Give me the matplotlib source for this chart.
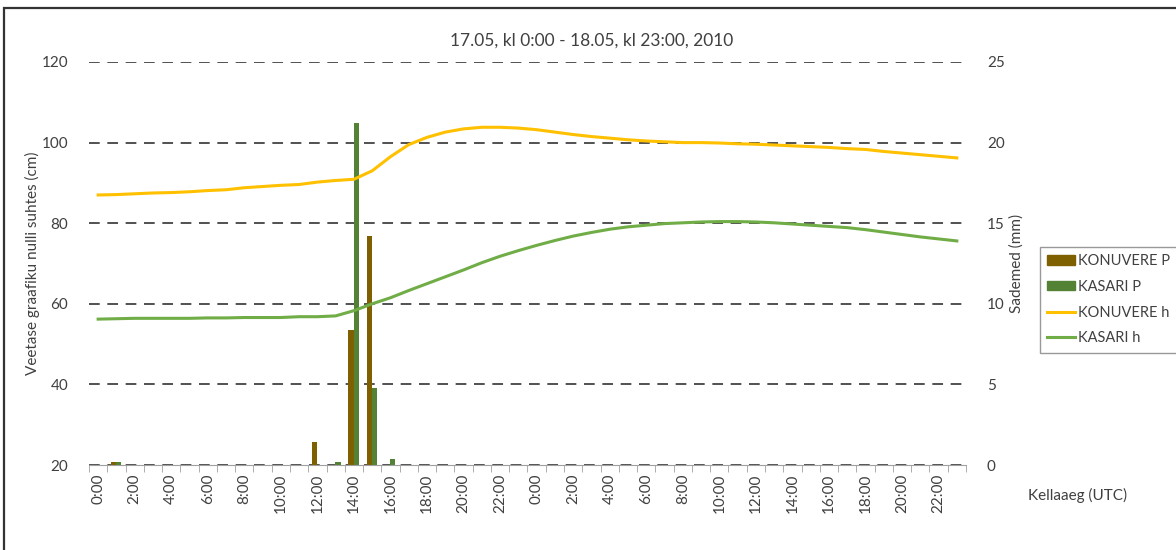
import numpy as np
import matplotlib
matplotlib.use("Agg")
import matplotlib.pyplot as plt
from matplotlib.patches import Patch, Rectangle
from matplotlib.lines import Line2D

plt.rcParams["font.family"] = ["Lato", "DejaVu Sans"]

# hourly categories, 17.05 0:00 .. 18.05 23:00
hours = [f"{h}:00" for h in range(24)] * 2
tick_labels = [lab if i % 2 == 0 else "" for i, lab in enumerate(hours)]

# precipitation (mm), right axis
konuvere_p = [0, 0.2, 0, 0, 0, 0, 0, 0, 0, 0, 0, 0, 1.4, 0, 8.4, 14.2,
              0, 0, 0, 0, 0, 0, 0, 0, 0, 0, 0, 0, 0, 0, 0, 0,
              0, 0, 0, 0, 0, 0, 0, 0, 0, 0, 0, 0, 0, 0, 0, 0]
kasari_p = [0, 0.2, 0, 0, 0, 0, 0, 0, 0, 0, 0, 0, 0, 0.2, 21.2, 4.8,
            0.4, 0, 0, 0, 0, 0, 0, 0, 0, 0, 0, 0, 0, 0, 0, 0,
            0, 0, 0, 0, 0, 0, 0, 0, 0, 0, 0, 0, 0, 0, 0, 0]

# water level (cm), left axis
konuvere_h = [87.0, 87.1, 87.3, 87.5, 87.6, 87.8, 88.1, 88.3, 88.8, 89.1,
              89.4, 89.6, 90.2, 90.6, 90.9, 93.0, 96.5, 99.5, 101.3, 102.6,
              103.4, 103.8, 103.8, 103.6, 103.2, 102.6, 102.0, 101.5, 101.1, 100.7,
              100.4, 100.2, 100.0, 100.0, 99.9, 99.7, 99.6, 99.4, 99.2, 99.0,
              98.8, 98.5, 98.3, 97.8, 97.4, 97.0, 96.6, 96.2]
kasari_h = [56.2, 56.3, 56.4, 56.4, 56.4, 56.4, 56.5, 56.5, 56.6, 56.6,
            56.6, 56.8, 56.8, 57.0, 58.3, 60.0, 61.5, 63.3, 65.0, 66.7,
            68.4, 70.2, 71.8, 73.2, 74.5, 75.7, 76.8, 77.7, 78.5, 79.1,
            79.5, 79.9, 80.1, 80.3, 80.4, 80.4, 80.3, 80.1, 79.8, 79.5,
            79.2, 78.9, 78.4, 77.8, 77.2, 76.6, 76.1, 75.6]

c_kon_p = "#7F6000"
c_kas_p = "#548235"
c_kon_h = "#FFC000"
c_kas_h = "#70AD47"
txt = "#404040"
fs = 11

fig = plt.figure(figsize=(11.76, 5.5), dpi=100)
fig.subplots_adjust(left=0.0757, right=0.8214, top=0.8873, bottom=0.1545)
ax = fig.add_subplot(111)   # bars, scale on right
ax2 = ax.twinx()            # lines, scale on left

x = np.arange(len(hours))
w = 0.29
ax.bar(x - w / 2 - 0.02, konuvere_p, w, color=c_kon_p, zorder=2)
ax.bar(x + w / 2 - 0.02, kasari_p, w, color=c_kas_p, zorder=2)
ax.set_ylim(0, 25)
ax.set_yticks(range(0, 26, 5))
ax.yaxis.tick_right()
ax.set_ylabel("Sademed (mm)", fontsize=fs, color=txt, rotation=90)
ax.yaxis.set_label_coords(1.066, 0.5)
ax.grid(axis="y", color="#222222", linestyle=(0, (7, 5)), linewidth=1.1, zorder=0)
ax.set_axisbelow(True)

ax2.plot(x, konuvere_h, color=c_kon_h, lw=2.2)
ax2.plot(x, kasari_h, color=c_kas_h, lw=2.2)
ax2.set_ylim(20, 120)
ax2.set_yticks(range(20, 121, 20))
ax2.yaxis.tick_left()
ax2.set_ylabel("Veetase graafiku nulli suhtes (cm)", fontsize=fs, color=txt)
ax2.yaxis.set_label_coords(-0.073, 0.5)

for a in (ax, ax2):
    for s in ("top", "left", "right"):
        a.spines[s].set_visible(False)
    a.tick_params(axis="y", length=0, labelsize=fs, labelcolor=txt, pad=15)
ax2.spines["bottom"].set_visible(False)
ax.spines["bottom"].set_color("#A0A0A0")

ax.set_xlim(-0.5, len(hours) - 0.5)
ax.set_xticks(x)
ax.set_xticklabels(tick_labels, rotation=90, fontsize=fs, color=txt)
ax.set_xticks(np.arange(-0.5, len(hours), 1), minor=True)
ax.tick_params(axis="x", which="major", length=0, pad=6)
ax.tick_params(axis="x", which="minor", length=5, color="#A0A0A0")

fig.suptitle("17.05, kl 0:00 - 18.05, kl 23:00, 2010", x=0.503, y=0.94,
             fontsize=12.5, color=txt)
fig.text(0.916, 0.1, "Kellaaeg (UTC)", fontsize=fs, color=txt, ha="center", va="center")

handles = [Patch(color=c_kon_p), Patch(color=c_kas_p),
           Line2D([], [], color=c_kon_h, lw=2.2), Line2D([], [], color=c_kas_h, lw=2.2)]
labels = ["KONUVERE P", "KASARI P", "KONUVERE h", "KASARI h"]
leg = fig.legend(handles, labels, loc="center left", bbox_to_anchor=(0.884, 0.455),
                 fontsize=10.5, frameon=True, fancybox=False, handlelength=1.9,
                 handleheight=0.6, handletextpad=0.2, borderpad=0.5, labelspacing=0.8,
                 borderaxespad=0)
leg.get_frame().set_edgecolor("#808080")
for t in leg.get_texts():
    t.set_color(txt)

fig.patches.append(Rectangle((4 / 1176, -0.1), 1.1, 1.1 - 8 / 550, transform=fig.transFigure,
                             fill=False, edgecolor="#333333", linewidth=1.6))

fig.savefig("out.png", dpi=100)
